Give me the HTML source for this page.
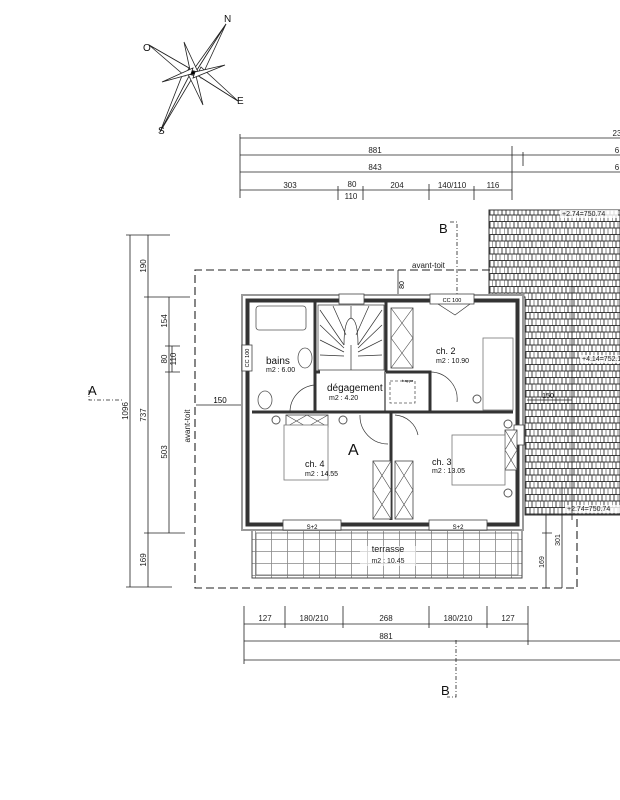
<!DOCTYPE html>
<html><head><meta charset="utf-8"><style>
html,body{margin:0;padding:0;background:#fff;}
svg{display:block;font-family:"Liberation Sans",sans-serif;}
</style></head><body>
<svg width="620" height="800" viewBox="0 0 620 800" xmlns="http://www.w3.org/2000/svg">
<defs>
<pattern id="tile" width="12" height="13" patternUnits="userSpaceOnUse">
<rect width="12" height="13" fill="#fff"/>
<line x1="0" y1="0.5" x2="12" y2="0.5" stroke="#333" stroke-width="1"/>
<line x1="0" y1="7" x2="12" y2="7" stroke="#333" stroke-width="1"/>
<line x1="2" y1="0" x2="2" y2="6.5" stroke="#444" stroke-width="1"/>
<line x1="6" y1="0" x2="6" y2="6.5" stroke="#666" stroke-width="0.8"/>
<line x1="10" y1="0" x2="10" y2="6.5" stroke="#444" stroke-width="1"/>
<line x1="0" y1="6.5" x2="0" y2="13" stroke="#444" stroke-width="1"/>
<line x1="4" y1="6.5" x2="4" y2="13" stroke="#444" stroke-width="1"/>
<line x1="8" y1="6.5" x2="8" y2="13" stroke="#666" stroke-width="0.8"/>
</pattern>
<pattern id="terr" width="16" height="12" patternUnits="userSpaceOnUse">
<rect width="16" height="12" fill="#fff"/>
<path d="M0 11.5H16M15.5 0V12" stroke="#888" stroke-width="0.8"/>
</pattern>
</defs>
<rect width="620" height="800" fill="#fff"/>

<!-- compass -->
<g stroke="#222" stroke-width="0.8" fill="#fff">
<polygon points="226,24 197,70 189,76"/><polygon points="226,24 197,70 201,78"/>
<polygon points="160,132 189,76 197,70"/><polygon points="160,132 189,76 185,68"/>
<polygon points="149,45 189,68 197,75"/><polygon points="149,45 189,68 185,76"/>
<polygon points="238,101 197,75 189,68"/><polygon points="238,101 197,75 201,67"/>
<polygon points="184,42 190,70 198,72"/><polygon points="203,105 196,76 188,74"/>
<polygon points="225,65 195,72 193,78"/><polygon points="162,82 191,74 193,68"/>
</g>
<circle cx="193" cy="73" r="1.6" fill="#000"/>
<g font-size="10" fill="#111">
<text x="224" y="22">N</text><text x="143" y="51">O</text><text x="237" y="104">E</text><text x="158" y="134">S</text>
</g>

<!-- top dimension lines -->
<g stroke="#222" stroke-width="0.8" fill="none">
<path d="M240 138H620M240 155H620M240 172H620M240 190H512"/>
<path d="M240 134V198M338 186V200M363 186V200M429 184V200M474 186V200M512 146V200M523 152V166"/>
</g>
<g font-size="8" fill="#222" text-anchor="middle">
<text x="375" y="153">881</text><text x="375" y="170">843</text>
<text x="290" y="188">303</text><text x="352" y="187">80</text><text x="351" y="199">110</text>
<text x="397" y="188">204</text><text x="452" y="188">140/110</text><text x="493" y="188">116</text>
<text x="617" y="136">23</text><text x="617" y="153">6</text><text x="617" y="170">6</text>
</g>

<!-- section markers -->
<g stroke="#222" stroke-width="0.8" fill="none" stroke-dasharray="4,2,1,2">
<path d="M450 222H457V300"/><path d="M456 640V697H447"/><path d="M89 390V400H122"/>
</g>
<g font-size="13" fill="#111"><text x="439" y="233">B</text><text x="441" y="695">B</text><text x="88" y="395">A</text></g>

<!-- left dimensions -->
<g stroke="#222" stroke-width="0.8" fill="none">
<path d="M130 235V587M148 235V587M169 297V533"/>
<path d="M126 235H170M126 587H172M144 297H190M144 533H185M165 346H180M165 372H180M172 346V372"/>
</g>
<g font-size="8" fill="#222">
<text transform="translate(128,411) rotate(-90)" text-anchor="middle">1096</text>
<text transform="translate(146,266) rotate(-90)" text-anchor="middle">190</text>
<text transform="translate(146,415) rotate(-90)" text-anchor="middle">737</text>
<text transform="translate(146,560) rotate(-90)" text-anchor="middle">169</text>
<text transform="translate(167,321) rotate(-90)" text-anchor="middle">154</text>
<text transform="translate(167,359) rotate(-90)" text-anchor="middle">80</text>
<text transform="translate(176,359) rotate(-90)" text-anchor="middle">110</text>
<text transform="translate(167,452) rotate(-90)" text-anchor="middle">503</text>
<text transform="translate(190,426) rotate(-90)" text-anchor="middle">avant-toit</text>
</g>
<path d="M196 405H243" stroke="#222" stroke-width="0.8"/>
<text x="220" y="403" font-size="8" text-anchor="middle">150</text>

<!-- roof tiles -->
<path d="M489 210H620V515H525V297H489Z" fill="url(#tile)" stroke="#333" stroke-width="1"/>
<g font-size="7" fill="#222">
<rect x="560" y="210" width="58" height="8" fill="#fff" opacity="0.8"/><text x="562" y="216">+2.74=750.74</text>
<rect x="580" y="355" width="40" height="8" fill="#fff" opacity="0.8"/><text x="582" y="361">+4.14=752.1</text>
<rect x="565" y="505" width="55" height="8" fill="#fff" opacity="0.8"/><text x="567" y="511">+2.74=750.74</text>
</g>
<g stroke="#222" stroke-width="0.8" fill="none">
<path d="M527 400H572M572 280V520M546 515V588M562 487V588M542 533H552"/>
</g>
<g font-size="7" fill="#222">
<text transform="translate(544,562) rotate(-90)" text-anchor="middle">169</text>
<text transform="translate(560,540) rotate(-90)" text-anchor="middle">301</text>
<text x="548" y="398" text-anchor="middle">150</text>
</g>

<!-- dashed avant-toit -->
<path d="M490 270H195V588H577V515" fill="none" stroke="#222" stroke-width="1.1" stroke-dasharray="8,4"/>
<text x="412" y="268" font-size="8" fill="#222">avant-toit</text>
<path d="M398 270V295" stroke="#222" stroke-width="0.8"/>
<text transform="translate(404,285) rotate(-90)" font-size="7" text-anchor="middle">80</text>

<!-- terrace -->
<rect x="252" y="530" width="270" height="48" fill="url(#terr)" stroke="#444" stroke-width="1"/>
<rect x="256" y="533" width="262" height="42" fill="none" stroke="#666" stroke-width="0.8"/>
<g font-size="9" fill="#222" text-anchor="middle"><rect x="360" y="546" width="56" height="20" fill="#fff" opacity="0.6"/><text x="388" y="552">terrasse</text><text x="388" y="563" font-size="7">m2 : 10.45</text></g>

<!-- outer walls -->
<rect x="242" y="295" width="281" height="235" fill="#fff" stroke="#999" stroke-width="2"/>
<rect x="247.5" y="300.5" width="270" height="224" fill="none" stroke="#333" stroke-width="4"/>
<!-- windows -->
<g fill="#fff" stroke="#444" stroke-width="0.8">
<rect x="339" y="294" width="25" height="10"/><rect x="430" y="294" width="44" height="10"/>
<rect x="242" y="345" width="10" height="26"/>
<rect x="283" y="520" width="58" height="10"/><rect x="429" y="520" width="58" height="10"/>
<rect x="514" y="425" width="10" height="20"/>
</g>
<text x="452" y="302" font-size="5.5" text-anchor="middle">CC 100</text>
<text transform="translate(249,358) rotate(-90)" font-size="5.5" text-anchor="middle">CC 100</text>
<text x="312" y="529" font-size="6" text-anchor="middle">S+2</text><text x="458" y="529" font-size="6" text-anchor="middle">S+2</text>

<!-- interior walls -->
<g stroke="#333" stroke-width="3" fill="none">
<path d="M315 302V412M386 302V372M386 372H430V412M252 412H513M391 412V520M315 372H320"/>
</g>
<path d="M385 372V412" stroke="#333" stroke-width="1.2"/>
<!-- stair -->
<g stroke="#333" stroke-width="0.7" fill="none">
<rect x="318" y="305" width="66" height="65"/>
<path d="M351 345V370M344 345Q344 320 351 318Q358 320 358 345"/>
<path d="M320 310L344 345M320 325L344 348M320 340L344 352M320 355L344 356M382 310L358 345M382 325L358 348M382 340L358 352M382 355L358 356M333 306L346 335M351 306V318M369 306L356 335"/>
</g>
<!-- bathroom -->
<g stroke="#555" stroke-width="0.8" fill="#fff">
<rect x="256" y="306" width="50" height="24" rx="3"/>
<ellipse cx="305" cy="358" rx="7" ry="10"/>
<ellipse cx="265" cy="400" rx="7" ry="9"/>
</g>
<!-- doors -->
<g stroke="#333" stroke-width="0.7" fill="none">
<path d="M315 385A27 27 0 0 0 290 412"/><path d="M430 372A27 27 0 0 1 457 402"/>
<path d="M360 415A28 28 0 0 0 388 444"/><path d="M395 415A25 25 0 0 1 418 435"/>
<path d="M438 304L455 315L470 304"/>
</g>
<rect x="390" y="381" width="25" height="22" fill="none" stroke="#555" stroke-width="0.8" stroke-dasharray="3,2"/>
<text x="402" y="382" font-size="4">trappe</text>
<!-- wardrobes -->
<g stroke="#444" stroke-width="0.8" fill="#fff">
<rect x="391" y="308" width="22" height="60"/><rect x="373" y="461" width="18" height="58"/><rect x="395" y="461" width="18" height="58"/>
<rect x="286" y="415" width="42" height="12"/><rect x="505" y="430" width="12" height="40"/>
</g>
<g stroke="#444" stroke-width="0.6">
<path d="M391 308L413 338M413 308L391 338M391 338L413 368M413 338L391 368"/>
<path d="M373 461L391 490M391 461L373 490M373 490L391 519M391 490L373 519"/>
<path d="M395 461L413 490M413 461L395 490M395 490L413 519M413 490L395 519"/>
<path d="M286 415L307 427M307 415L286 427M307 415L328 427M328 415L307 427"/>
<path d="M505 430L517 450M517 430L505 450M505 450L517 470M517 450L505 470"/>
</g>
<!-- beds -->
<g stroke="#777" stroke-width="0.8" fill="#fff">
<rect x="284" y="425" width="44" height="55"/><rect x="452" y="435" width="53" height="50"/><rect x="483" y="338" width="30" height="72"/>
</g>
<g stroke="#555" stroke-width="1" fill="#fff">
<circle cx="276" cy="420" r="4"/><circle cx="343" cy="420" r="4"/><circle cx="508" cy="424" r="4"/><circle cx="508" cy="493" r="4"/><circle cx="477" cy="399" r="4"/>
</g>
<!-- labels -->
<g fill="#111">
<text x="266" y="364" font-size="10">bains</text><text x="266" y="372" font-size="7">m2 : 6.00</text>
<text x="327" y="391" font-size="10">dégagement</text><text x="329" y="400" font-size="7">m2 : 4.20</text>
<text x="436" y="354" font-size="9">ch. 2</text><text x="436" y="363" font-size="7">m2 : 10.90</text>
<text x="305" y="467" font-size="9">ch. 4</text><text x="305" y="476" font-size="7">m2 : 14.55</text>
<text x="432" y="465" font-size="9">ch. 3</text><text x="432" y="473" font-size="7">m2 : 13.05</text>
<text x="348" y="455" font-size="16">A</text>
</g>

<!-- bottom dimensions -->
<g stroke="#222" stroke-width="0.8" fill="none">
<path d="M244 624H528M244 641H620M244 660H620"/>
<path d="M244 606V664M285 606V628M343 606V628M429 606V628M487 606V628M528 606V645"/>
</g>
<g font-size="8" fill="#222" text-anchor="middle">
<text x="265" y="621">127</text><text x="314" y="621">180/210</text><text x="386" y="621">268</text><text x="458" y="621">180/210</text><text x="508" y="621">127</text><text x="386" y="639">881</text>
</g>
</svg>
</body></html>
